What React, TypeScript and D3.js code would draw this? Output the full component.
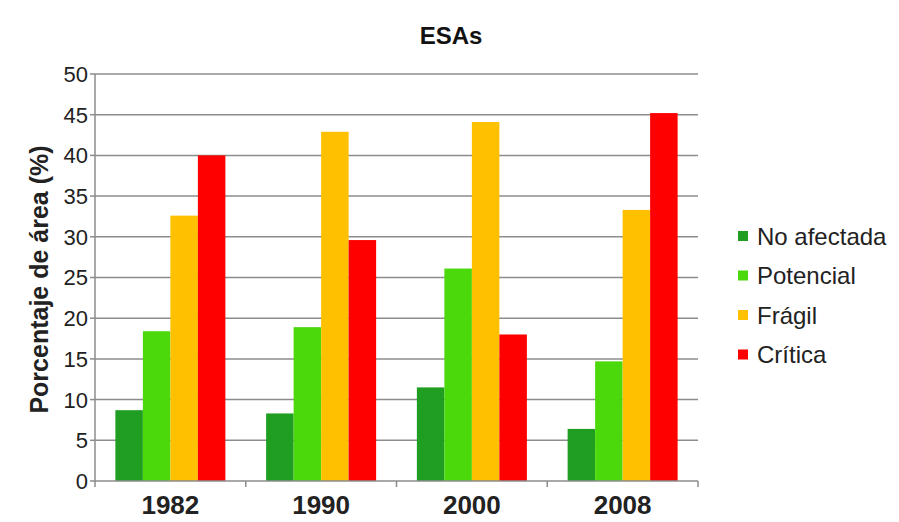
import * as d3 from "d3";

const years = ["1982", "1990", "2000", "2008"];
const series = ["No afectada", "Potencial", "Frágil", "Crítica"];
const colors = ["#1f9e22", "#4cd90c", "#ffc000", "#ff0000"];
const noAfectada = [8.7, 8.3, 11.5, 6.4];
const potencial = [18.4, 18.9, 26.1, 14.7];
const fragil = [32.6, 42.9, 44.1, 33.3];
const critica = [40.0, 29.6, 18.0, 45.2];
const yTicks = [0, 5, 10, 15, 20, 25, 30, 35, 40, 45, 50];

const values = [noAfectada, potencial, fragil, critica];

export default function App() {
  const W = 899;
  const H = 522;
  const left = 95;
  const right = 698;
  const top = 74;
  const bottom = 481;

  const x = d3.scaleBand().domain(years).range([left, right]).padding(0);
  const inner = d3
    .scaleBand()
    .domain(series)
    .range([0, 110]);
  const y = d3.scaleLinear().domain([0, 50]).range([bottom, top]);
  const font = "'Liberation Sans', Arial, sans-serif";
  const groupOff = (x.bandwidth() - 110) / 2;

  return (
    <svg
      width={W}
      height={H}
      style={{ position: "absolute", left: 0, top: 0, background: "#fff" }}
      fontFamily={font}
    >
      <rect width={W} height={H} fill="#fff" />
      <text x={451} y={44} textAnchor="middle" fontWeight="bold" fontSize={24} fill="#111">
        ESAs
      </text>

      {/* grid + y ticks */}
      {yTicks.map((t) => (
        <g key={t}>
          {t > 0 && (
            <line x1={left} x2={right} y1={y(t)} y2={y(t)} stroke="#8c8c8c" strokeWidth={1.5} />
          )}
          <line x1={left - 5} x2={left} y1={y(t)} y2={y(t)} stroke="#8c8c8c" strokeWidth={1.5} />
          <text x={88} y={y(t)} dy="0.36em" textAnchor="end" fontSize={22} fill="#222">
            {t}
          </text>
        </g>
      ))}

      {/* bars */}
      {years.map((yr, i) => (
        <g key={yr} transform={`translate(${(x(yr) ?? 0) + groupOff},0)`}>
          {series.map((s, j) => (
            <rect
              key={s}
              x={inner(s)}
              y={y(values[j][i])}
              width={inner.bandwidth()}
              height={y(0) - y(values[j][i])}
              fill={colors[j]}
            />
          ))}
        </g>
      ))}

      {/* axes */}
      <line x1={left} x2={left} y1={top} y2={bottom} stroke="#8c8c8c" strokeWidth={1.5} />
      <line x1={left} x2={right} y1={bottom} y2={bottom} stroke="#8c8c8c" strokeWidth={1.5} />
      {[...years.map((yr) => x(yr) ?? 0), right].map((v, i) => (
        <line key={i} x1={v} x2={v} y1={bottom} y2={bottom + 6} stroke="#8c8c8c" strokeWidth={1.5} />
      ))}
      {years.map((yr) => (
        <text
          key={yr}
          x={(x(yr) ?? 0) + x.bandwidth() / 2}
          y={514}
          textAnchor="middle"
          fontWeight="bold"
          fontSize={26}
          fill="#222"
        >
          {yr}
        </text>
      ))}

      <text
        transform={`translate(48,${(top + bottom) / 2 + 2}) rotate(-90)`}
        textAnchor="middle"
        fontWeight="bold"
        fontSize={25}
        fill="#222"
      >
        Porcentaje de área (%)
      </text>

      {/* legend */}
      {series.map((s, j) => (
        <g key={s} transform={`translate(738,${236 + j * 39.5})`}>
          <rect x={0} y={-5} width={10} height={10} fill={colors[j]} />
          <text x={19} y={0} dy="0.36em" fontSize={24} fill="#222">
            {s}
          </text>
        </g>
      ))}
    </svg>
  );
}
